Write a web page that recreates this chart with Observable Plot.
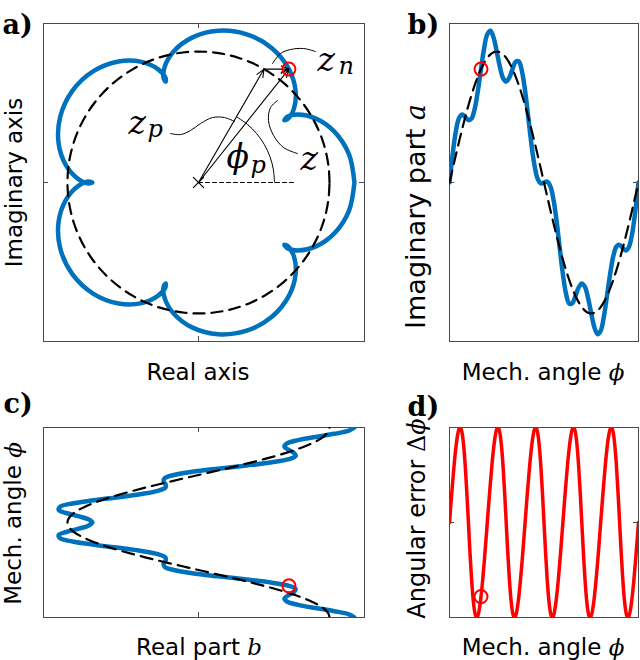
<!DOCTYPE html>
<html><head><meta charset="utf-8">
<script src="https://cdn.jsdelivr.net/npm/d3@7"></script>
<script src="https://cdn.jsdelivr.net/npm/@observablehq/plot@0.6"></script>
<style>
html,body{margin:0;padding:0;background:#fff;}
#fig{position:relative;width:640px;height:660px;overflow:hidden;background:#fff;}
#fig svg{position:absolute;}
</style></head><body><div id="fig"></div>
<script>
// ---------- data (circle radius = 1 unit) ----------
const angleDeg = [
  0,6,12,18,24,30,36,42,48,54,
  60,66,72,78,84,90,96,102,108,114,
  120,126,132,138,144,150,156,162,168,174,
  180,186,192,198,204,210,216,222,228,234,
  240,246,252,258,264,270,276,282,288,294,
  300,306,312,318,324,330,336,342,348,354,
  360];
const realPart = [
  1.19,1.1482,1.0368,0.8924,0.7598,0.676,0.6553,0.6844,0.7278,0.7415,
  0.69,0.5604,0.3677,0.1492,-0.0492,-0.19,-0.2582,-0.2666,-0.2503,-0.253,
  -0.31,-0.4341,-0.6104,-0.8018,-0.9627,-1.056,-1.0672,-1.0098,-0.9194,-0.8408,
  -0.81,-0.8408,-0.9194,-1.0098,-1.0672,-1.056,-0.9627,-0.8018,-0.6104,-0.4341,
  -0.31,-0.253,-0.2503,-0.2666,-0.2582,-0.19,-0.0492,0.1492,0.3677,0.5604,
  0.69,0.7415,0.7278,0.6844,0.6553,0.676,0.7598,0.8924,1.0368,1.1482,
  1.19];
const imagPart = [
  0,0.2162,0.3886,0.4897,0.5184,0.5,0.4761,0.4884,0.5624,0.6973,
  0.866,1.0252,1.1318,1.1588,1.1062,1,0.8828,0.7974,0.7704,0.8018,
  0.866,0.9207,0.9238,0.8498,0.6995,0.5,0.295,0.1283,0.0272,-0.0072,
  0,0.0072,-0.0272,-0.1283,-0.295,-0.5,-0.6995,-0.8498,-0.9238,-0.9207,
  -0.866,-0.8018,-0.7704,-0.7974,-0.8828,-1,-1.1062,-1.1588,-1.1318,-1.0252,
  -0.866,-0.6973,-0.5624,-0.4884,-0.4761,-0.5,-0.5184,-0.4897,-0.3886,-0.2162,
  0];
const circleReal = [
  1,0.9945,0.9781,0.9511,0.9135,0.866,0.809,0.7431,0.6691,0.5878,
  0.5,0.4067,0.309,0.2079,0.1045,0,-0.1045,-0.2079,-0.309,-0.4067,
  -0.5,-0.5878,-0.6691,-0.7431,-0.809,-0.866,-0.9135,-0.9511,-0.9781,-0.9945,
  -1,-0.9945,-0.9781,-0.9511,-0.9135,-0.866,-0.809,-0.7431,-0.6691,-0.5878,
  -0.5,-0.4067,-0.309,-0.2079,-0.1045,0,0.1045,0.2079,0.309,0.4067,
  0.5,0.5878,0.6691,0.7431,0.809,0.866,0.9135,0.9511,0.9781,0.9945,
  1];
const circleImag = [
  0,0.1045,0.2079,0.309,0.4067,0.5,0.5878,0.6691,0.7431,0.809,
  0.866,0.9135,0.9511,0.9781,0.9945,1,0.9945,0.9781,0.9511,0.9135,
  0.866,0.809,0.7431,0.6691,0.5878,0.5,0.4067,0.309,0.2079,0.1045,
  0,-0.1045,-0.2079,-0.309,-0.4067,-0.5,-0.5878,-0.6691,-0.7431,-0.809,
  -0.866,-0.9135,-0.9511,-0.9781,-0.9945,-1,-0.9945,-0.9781,-0.9511,-0.9135,
  -0.866,-0.809,-0.7431,-0.6691,-0.5878,-0.5,-0.4067,-0.309,-0.2079,-0.1045,
  0];
const errorAngleDeg = [
  0,3,6,9,12,15,18,21,24,27,30,33,36,39,42,45,48,51,54,57,60,63,66,69,
  72,75,78,81,84,87,90,93,96,99,102,105,108,111,114,117,120,123,126,129,132,135,138,141,
  144,147,150,153,156,159,162,165,168,171,174,177,180,183,186,189,192,195,198,201,204,207,210,213,
  216,219,222,225,228,231,234,237,240,243,246,249,252,255,258,261,264,267,270,273,276,279,282,285,
  288,291,294,297,300,303,306,309,312,315,318,321,324,327,330,333,336,339,342,345,348,351,354,357,
  360];
const angularError = [
  0,0.0415,0.0814,0.1179,0.1491,0.1732,0.1878,0.1907,0.1798,0.154,0.1132,0.0602,0,-0.0602,-0.1132,-0.154,-0.1798,-0.1907,-0.1878,-0.1732,-0.1491,-0.1179,-0.0814,-0.0415,
  0,0.0415,0.0814,0.1179,0.1491,0.1732,0.1878,0.1907,0.1798,0.154,0.1132,0.0602,0,-0.0602,-0.1132,-0.154,-0.1798,-0.1907,-0.1878,-0.1732,-0.1491,-0.1179,-0.0814,-0.0415,
  0,0.0415,0.0814,0.1179,0.1491,0.1732,0.1878,0.1907,0.1798,0.154,0.1132,0.0602,0,-0.0602,-0.1132,-0.154,-0.1798,-0.1907,-0.1878,-0.1732,-0.1491,-0.1179,-0.0814,-0.0415,
  0,0.0415,0.0814,0.1179,0.1491,0.1732,0.1878,0.1907,0.1798,0.154,0.1132,0.0602,0,-0.0602,-0.1132,-0.154,-0.1798,-0.1907,-0.1878,-0.1732,-0.1491,-0.1179,-0.0814,-0.0415,
  0,0.0415,0.0814,0.1179,0.1491,0.1732,0.1878,0.1907,0.1798,0.154,0.1132,0.0602,0,-0.0602,-0.1132,-0.154,-0.1798,-0.1907,-0.1878,-0.1732,-0.1491,-0.1179,-0.0814,-0.0415,
  0];

// highlighted sample (red circle)
const markerAngle = [60];
const markerReal = [0.69];
const markerImag = [0.866];
const markerError = [-0.1491];

// vector annotations in panel a: z_p, z, z_n
const vecX1 = [0, 0, 0.5];
const vecY1 = [0, 0, 0.866];
const vecX2 = [0.5, 0.69, 0.69];
const vecY2 = [0.866, 0.866, 0.866];
const originX = [0], originY = [0];
const refLineX = [0, 0.74], refLineY = [0, 0];
const arcX = [0.58,0.5712,0.545,0.5023,0.4443,0.3728,0.29];
const arcY = [0,0.1007,0.1984,0.29,0.3728,0.4443,0.5023];
const zpLeaderX = [-0.214,-0.137,-0.061,0.015,0.107,0.198,0.275];
const zpLeaderY = [0.374,0.366,0.397,0.45,0.496,0.496,0.466];
const zLeaderX = [0.603,0.55,0.534,0.573,0.649,0.756];
const zLeaderY = [0.626,0.573,0.473,0.359,0.267,0.221];
const znLeaderX = [0.565,0.626,0.702,0.802,0.893];
const znLeaderY = [0.908,0.985,1.015,1.023,1.0];
const mathMainText = ["z", "z", "z", "\u03D5"];
const mathMainX = [-0.534, 0.908, 0.779, 0.214];
const mathMainY = [0.374, 0.855, 0.092, 0.107];
const mathSubText = ["p", "n", "p"];
const mathSubX = [-0.389, 1.069, 0.397];
const mathSubY = [0.344, 0.832, 0.069];

// ticks and labels
const centerTick = [0];
const panelLabels = ["a)", "b)", "c)", "d)"];
const xLabels = ["Real axis", "Mech. angle \u03D5", "Real part b", "Mech. angle \u03D5"];
const yLabels = ["Imaginary axis", "Imaginary part a", "Mech. angle \u03D5", "Angular error \u0394\u03D5"];
const yLabelSizes = [23, 27, 23, 24];
const mathLabels = ["Mech. angle \u03D5", "Imaginary part a", "Real part b", "Angular error \u0394\u03D5"];

const realDomain = [-1.183, 1.267];
const imagDomain = [-1.214, 1.214];
const angleDomain = [0, 360];
const errorDomain = [-0.1911, 0.1911];

// ---------- styling ----------
const BLUE = "#0072bd", RED = "#ff0000", FRAME = "#4a4a4a";
const SANS = "DejaVu Sans", SERIF = "DejaVu Serif";
const fig = document.getElementById("fig");

function labelMarks(i, o) {
  return [
    Plot.text([panelLabels[i]], {text: d => d, frameAnchor: "top-left", dx: o.pdx, dy: o.pdy,
      textAnchor: "start", lineAnchor: "bottom", fontFamily: SERIF, fontWeight: "bold", fontSize: 27, fill: "#000"}),
    Plot.text([xLabels[i]], {text: d => d, frameAnchor: "bottom", dx: o.xdx, dy: o.xdy,
      textAnchor: "middle", lineAnchor: "middle", fontFamily: SANS, fontSize: 23, fill: "#000"}),
    Plot.text([yLabels[i]], {text: d => d, frameAnchor: "left", dx: o.ydx, dy: o.ydy, rotate: -90,
      textAnchor: "middle", lineAnchor: "middle", fontFamily: SANS, fontSize: yLabelSizes[i], fill: "#000"})
  ];
}
function ticksX(h) { return [Plot.ruleX(centerTick, {stroke: FRAME, insetTop: h - 5}), Plot.ruleX(centerTick, {stroke: FRAME, insetBottom: h - 5})]; }
function ticksY(w) { return [Plot.ruleY(centerTick, {stroke: FRAME, insetLeft: w - 5}), Plot.ruleY(centerTick, {stroke: FRAME, insetRight: w - 5})]; }

const common = {style: {background: "transparent", overflow: "visible"}};

// panel a
const plotA = Plot.plot({...common,
  width: 380, height: 380, marginLeft: 43, marginRight: 16, marginTop: 23, marginBottom: 39,
  x: {domain: realDomain, axis: null}, y: {domain: imagDomain, axis: null},
  marks: [
    Plot.frame({stroke: FRAME}),
    ...ticksX(318), ...ticksY(321),
    Plot.line(angleDeg, {x: realPart, y: imagPart, stroke: BLUE, strokeWidth: 4.5, curve: "catmull-rom"}),
    Plot.line(angleDeg, {x: circleReal, y: circleImag, stroke: "#000", strokeWidth: 2.2, strokeDasharray: "11,7", curve: "catmull-rom"}),
    Plot.line(refLineX, {x: refLineX, y: refLineY, stroke: "#000", strokeWidth: 1, strokeDasharray: "4,3"}),
    Plot.line(arcX, {x: arcX, y: arcY, stroke: "#000", strokeWidth: 1, curve: "catmull-rom"}),
    Plot.line(zpLeaderX, {x: zpLeaderX, y: zpLeaderY, stroke: "#000", strokeWidth: 1, curve: "catmull-rom"}),
    Plot.line(zLeaderX, {x: zLeaderX, y: zLeaderY, stroke: "#000", strokeWidth: 1, curve: "catmull-rom"}),
    Plot.line(znLeaderX, {x: znLeaderX, y: znLeaderY, stroke: "#000", strokeWidth: 1, curve: "catmull-rom"}),
    Plot.arrow(vecX1, {x1: vecX1, y1: vecY1, x2: vecX2, y2: vecY2, stroke: "#000", strokeWidth: 1.1, headLength: 12, headAngle: 45}),
    Plot.dot(originX, {x: originX, y: originY, symbol: "times", r: 5, stroke: "#000", strokeWidth: 1.2}),
    Plot.dot(markerReal, {x: markerReal, y: markerImag, r: 6.5, stroke: RED, strokeWidth: 2, fill: "none"}),
    Plot.text(mathMainText, {x: mathMainX, y: mathMainY, text: d => d, textAnchor: "start", lineAnchor: "bottom",
      fontFamily: SERIF, fontStyle: "italic", fontSize: 33, fill: "#000"}),
    Plot.text(mathSubText, {x: mathSubX, y: mathSubY, text: d => d, textAnchor: "start", lineAnchor: "bottom",
      fontFamily: SERIF, fontStyle: "italic", fontSize: 24, fill: "#000"}),
    ...labelMarks(0, {pdx: -41, pdy: 10, xdx: -6, xdy: 31, ydx: -29, ydy: 0})
  ]
});

// panel b
const plotB = Plot.plot({...common,
  width: 260, height: 380, marginLeft: 69, marginRight: 2, marginTop: 23, marginBottom: 39,
  x: {domain: angleDomain, axis: null}, y: {domain: imagDomain, axis: null},
  marks: [
    Plot.frame({stroke: FRAME}),
    ...ticksY(189),
    Plot.line(angleDeg, {x: angleDeg, y: imagPart, stroke: BLUE, strokeWidth: 4.5, curve: "catmull-rom", clip: true}),
    Plot.line(angleDeg, {x: angleDeg, y: circleImag, stroke: "#000", strokeWidth: 2.2, strokeDasharray: "12,7", curve: "catmull-rom", clip: true}),
    Plot.dot(markerAngle, {x: markerAngle, y: markerImag, r: 6.5, stroke: RED, strokeWidth: 2, fill: "none"}),
    ...labelMarks(1, {pdx: -42, pdy: 10, xdx: -1, xdy: 31, ydx: -33, ydy: 34})
  ]
});

// panel c
const plotC = Plot.plot({...common,
  width: 380, height: 280, marginLeft: 43, marginRight: 16, marginTop: 47, marginBottom: 43,
  x: {domain: realDomain, axis: null}, y: {domain: angleDomain, axis: null},
  marks: [
    Plot.frame({stroke: FRAME}),
    ...ticksX(190),
    Plot.line(angleDeg, {x: realPart, y: angleDeg, stroke: BLUE, strokeWidth: 4.5, curve: "catmull-rom", clip: true}),
    Plot.line(angleDeg, {x: circleReal, y: angleDeg, stroke: "#000", strokeWidth: 2.2, strokeDasharray: "12,7", curve: "catmull-rom", clip: true}),
    Plot.dot(markerAngle, {x: markerReal, y: markerAngle, r: 6.5, stroke: RED, strokeWidth: 2, fill: "none"}),
    ...labelMarks(2, {pdx: -40, pdy: -15, xdx: -5, xdy: 30, ydx: -30, ydy: 1})
  ]
});

// panel d
const plotD = Plot.plot({...common,
  width: 260, height: 280, marginLeft: 69, marginRight: 2, marginTop: 47, marginBottom: 43,
  x: {domain: angleDomain, axis: null}, y: {domain: errorDomain, axis: null},
  marks: [
    Plot.frame({stroke: FRAME}),
    ...ticksY(189),
    Plot.line(errorAngleDeg, {x: errorAngleDeg, y: angularError, stroke: RED, strokeWidth: 3.5, curve: "catmull-rom", clip: true}),
    Plot.dot(markerAngle, {x: markerAngle, y: markerError, r: 6.5, stroke: RED, strokeWidth: 2, fill: "none"}),
    ...labelMarks(3, {pdx: -42, pdy: -12, xdx: -1, xdy: 30, ydx: -32, ydy: -4})
  ]
});

// Mixed-font labels: trailing math symbol(s) set in serif (italic except Δ)
function styleMath(svg) {
  svg.querySelectorAll("text").forEach(t => {
    const s = t.textContent;
    if (!mathLabels.includes(s)) return;
    const cut = s.lastIndexOf(" ") + 1;
    const plain = s.slice(0, cut), math = s.slice(cut);
    t.textContent = "";
    const a = document.createElementNS("http://www.w3.org/2000/svg", "tspan");
    a.textContent = plain; t.appendChild(a);
    for (const ch of math) {
      const b = document.createElementNS("http://www.w3.org/2000/svg", "tspan");
      b.textContent = ch;
      b.setAttribute("font-family", SERIF);
      if (ch !== "\u0394") b.setAttribute("font-style", "italic");
      t.appendChild(b);
    }
  });
}

[[plotA, 0, 0], [plotB, 380, 0], [plotC, 0, 380], [plotD, 380, 380]].forEach(([svg, l, t]) => {
  styleMath(svg);
  svg.style.left = l + "px"; svg.style.top = t + "px";
  svg.style.maxWidth = "none";
  fig.appendChild(svg);
});
</script></body></html>
